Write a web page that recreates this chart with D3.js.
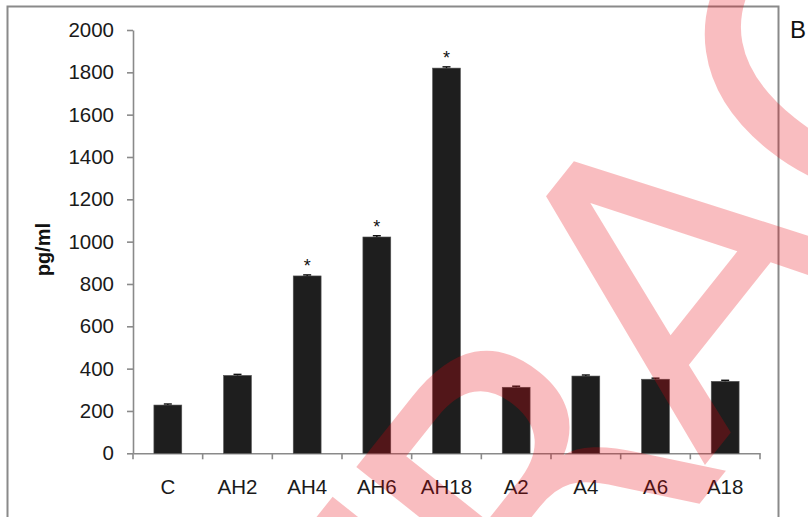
<!DOCTYPE html>
<html>
<head>
<meta charset="utf-8">
<script src="https://cdn.jsdelivr.net/npm/d3@7"></script>
<style>
  html, body { margin: 0; padding: 0; background: #fff; }
  svg { display: block; }
</style>
</head>
<body>
<svg id="chart" width="808" height="517"></svg>
<script>
// Cytokine concentration per treatment group (pg/ml), mean with error bar
const categories = ["C", "AH2", "AH4", "AH6", "AH18", "A2", "A4", "A6", "A18"];
const values     = [228, 368, 838, 1022, 1820, 312, 365, 350, 340];
const errors     = [5, 5, 5, 6, 6, 5, 5, 5, 5];
const significant = ["AH4", "AH6", "AH18"];
const yTicks = [0, 200, 400, 600, 800, 1000, 1200, 1400, 1600, 1800, 2000];
const yTitle = "pg/ml";
const panelLabel = "B";
const stampText = "RETRACTED";

const svg = d3.select("#chart");
const font = "'Liberation Sans', Arial, sans-serif";

const x = d3.scaleBand()
  .domain(categories)
  .range([133, 760])
  .paddingInner(0.6)
  .paddingOuter(0.3);

const y = d3.scaleLinear()
  .domain([0, 2000])
  .range([453.3, 30]);

const axisColor = "#8a8a8a";

// outer panel frame
svg.append("rect")
  .attr("x", 7.5).attr("y", 6.5)
  .attr("width", 771).attr("height", 530)
  .attr("fill", "none")
  .attr("stroke", axisColor)
  .attr("stroke-width", 2);

svg.append("text")
  .attr("x", 790).attr("y", 38)
  .attr("font-family", font)
  .attr("font-size", 24)
  .attr("fill", "#111")
  .text(panelLabel);

// y axis
const yAxis = svg.append("g")
  .attr("transform", "translate(133,0)")
  .call(d3.axisLeft(y).tickValues(yTicks).tickFormat(d3.format("d"))
    .tickSize(6).tickSizeOuter(0).tickPadding(13));
yAxis.selectAll("path, line").attr("stroke", axisColor).attr("stroke-width", 1.6);
yAxis.selectAll("text")
  .attr("font-family", font)
  .attr("font-size", 20.5)
  .attr("fill", "#1a1a1a");

// x axis: labels under each bar, ticks on the group boundaries
const xAxis = svg.append("g")
  .attr("transform", `translate(0,${y(0)})`)
  .call(d3.axisBottom(x).tickSize(0).tickSizeOuter(0).tickPadding(26));
xAxis.select("path").attr("stroke", axisColor).attr("stroke-width", 1.6);
xAxis.selectAll("text")
  .attr("font-family", font)
  .attr("font-size", 20.5)
  .attr("fill", "#1a1a1a");

const step = x.step(), bw = x.bandwidth();
const bounds = categories.map(c => x(c) + bw / 2 - step / 2)
  .concat([x(categories[categories.length - 1]) + bw / 2 + step / 2]);
xAxis.selectAll("line.bound")
  .data(bounds)
  .join("line")
  .attr("class", "bound")
  .attr("x1", d => d).attr("x2", d => d)
  .attr("y1", 0).attr("y2", 6)
  .attr("stroke", axisColor)
  .attr("stroke-width", 1.6);

// y axis title
svg.append("text")
  .attr("transform", `translate(50,${(y(0) + y(2000)) / 2 + 8}) rotate(-90)`)
  .attr("text-anchor", "middle")
  .attr("font-family", font)
  .attr("font-size", 20)
  .attr("font-weight", "bold")
  .attr("fill", "#111")
  .text(yTitle);

const data = categories.map((c, i) => ({ c, v: values[i], e: errors[i] }));

// bars
svg.append("g")
  .selectAll("rect")
  .data(data)
  .join("rect")
  .attr("x", d => x(d.c))
  .attr("width", bw)
  .attr("y", d => y(d.v))
  .attr("height", d => y(0) - y(d.v))
  .attr("fill", "#1e1e1e")
  .attr("stroke", "#555")
  .attr("stroke-width", 0.6);

// error bars
const eb = svg.append("g").attr("stroke", "#111").attr("stroke-width", 1.4);
eb.selectAll("line.v").data(data).join("line").attr("class", "v")
  .attr("x1", d => x(d.c) + bw / 2).attr("x2", d => x(d.c) + bw / 2)
  .attr("y1", d => y(d.v + d.e)).attr("y2", d => y(d.v));
eb.selectAll("line.cap").data(data).join("line").attr("class", "cap")
  .attr("x1", d => x(d.c) + bw / 2 - 4).attr("x2", d => x(d.c) + bw / 2 + 4)
  .attr("y1", d => y(d.v + d.e)).attr("y2", d => y(d.v + d.e));

// significance markers
svg.append("g")
  .selectAll("text")
  .data(data.filter(d => significant.includes(d.c)))
  .join("text")
  .attr("x", d => x(d.c) + bw / 2)
  .attr("y", d => y(d.v + d.e) - 3)
  .attr("text-anchor", "middle")
  .attr("font-family", font)
  .attr("font-size", 18)
  .attr("fill", "#111")
  .text("*");

// translucent diagonal stamp across the panel
const S = 400;
const kern = -7;   // spacing tweak before the "A"
const drop = 20;   // baseline drop of the leading letters
const stamp = svg.append("g")
  .attr("transform", "translate(703,467.4) rotate(-51.5)");
const st = stamp.append("text")
  .attr("font-family", "'DejaVu Sans', sans-serif")
  .attr("font-size", S)
  .attr("fill", "#e8000a")
  .attr("fill-opacity", 0.26);
const head = stampText.slice(0, 4), mid = stampText.slice(4, 5), tail = stampText.slice(5);
st.append("tspan").attr("dy", drop).text(head);
st.append("tspan").attr("dx", kern).attr("dy", -drop).text(mid);
st.append("tspan").text(tail);
const lead = st.node().getSubStringLength(0, 4);
st.attr("x", -(lead + kern));
</script>
</body>
</html>
